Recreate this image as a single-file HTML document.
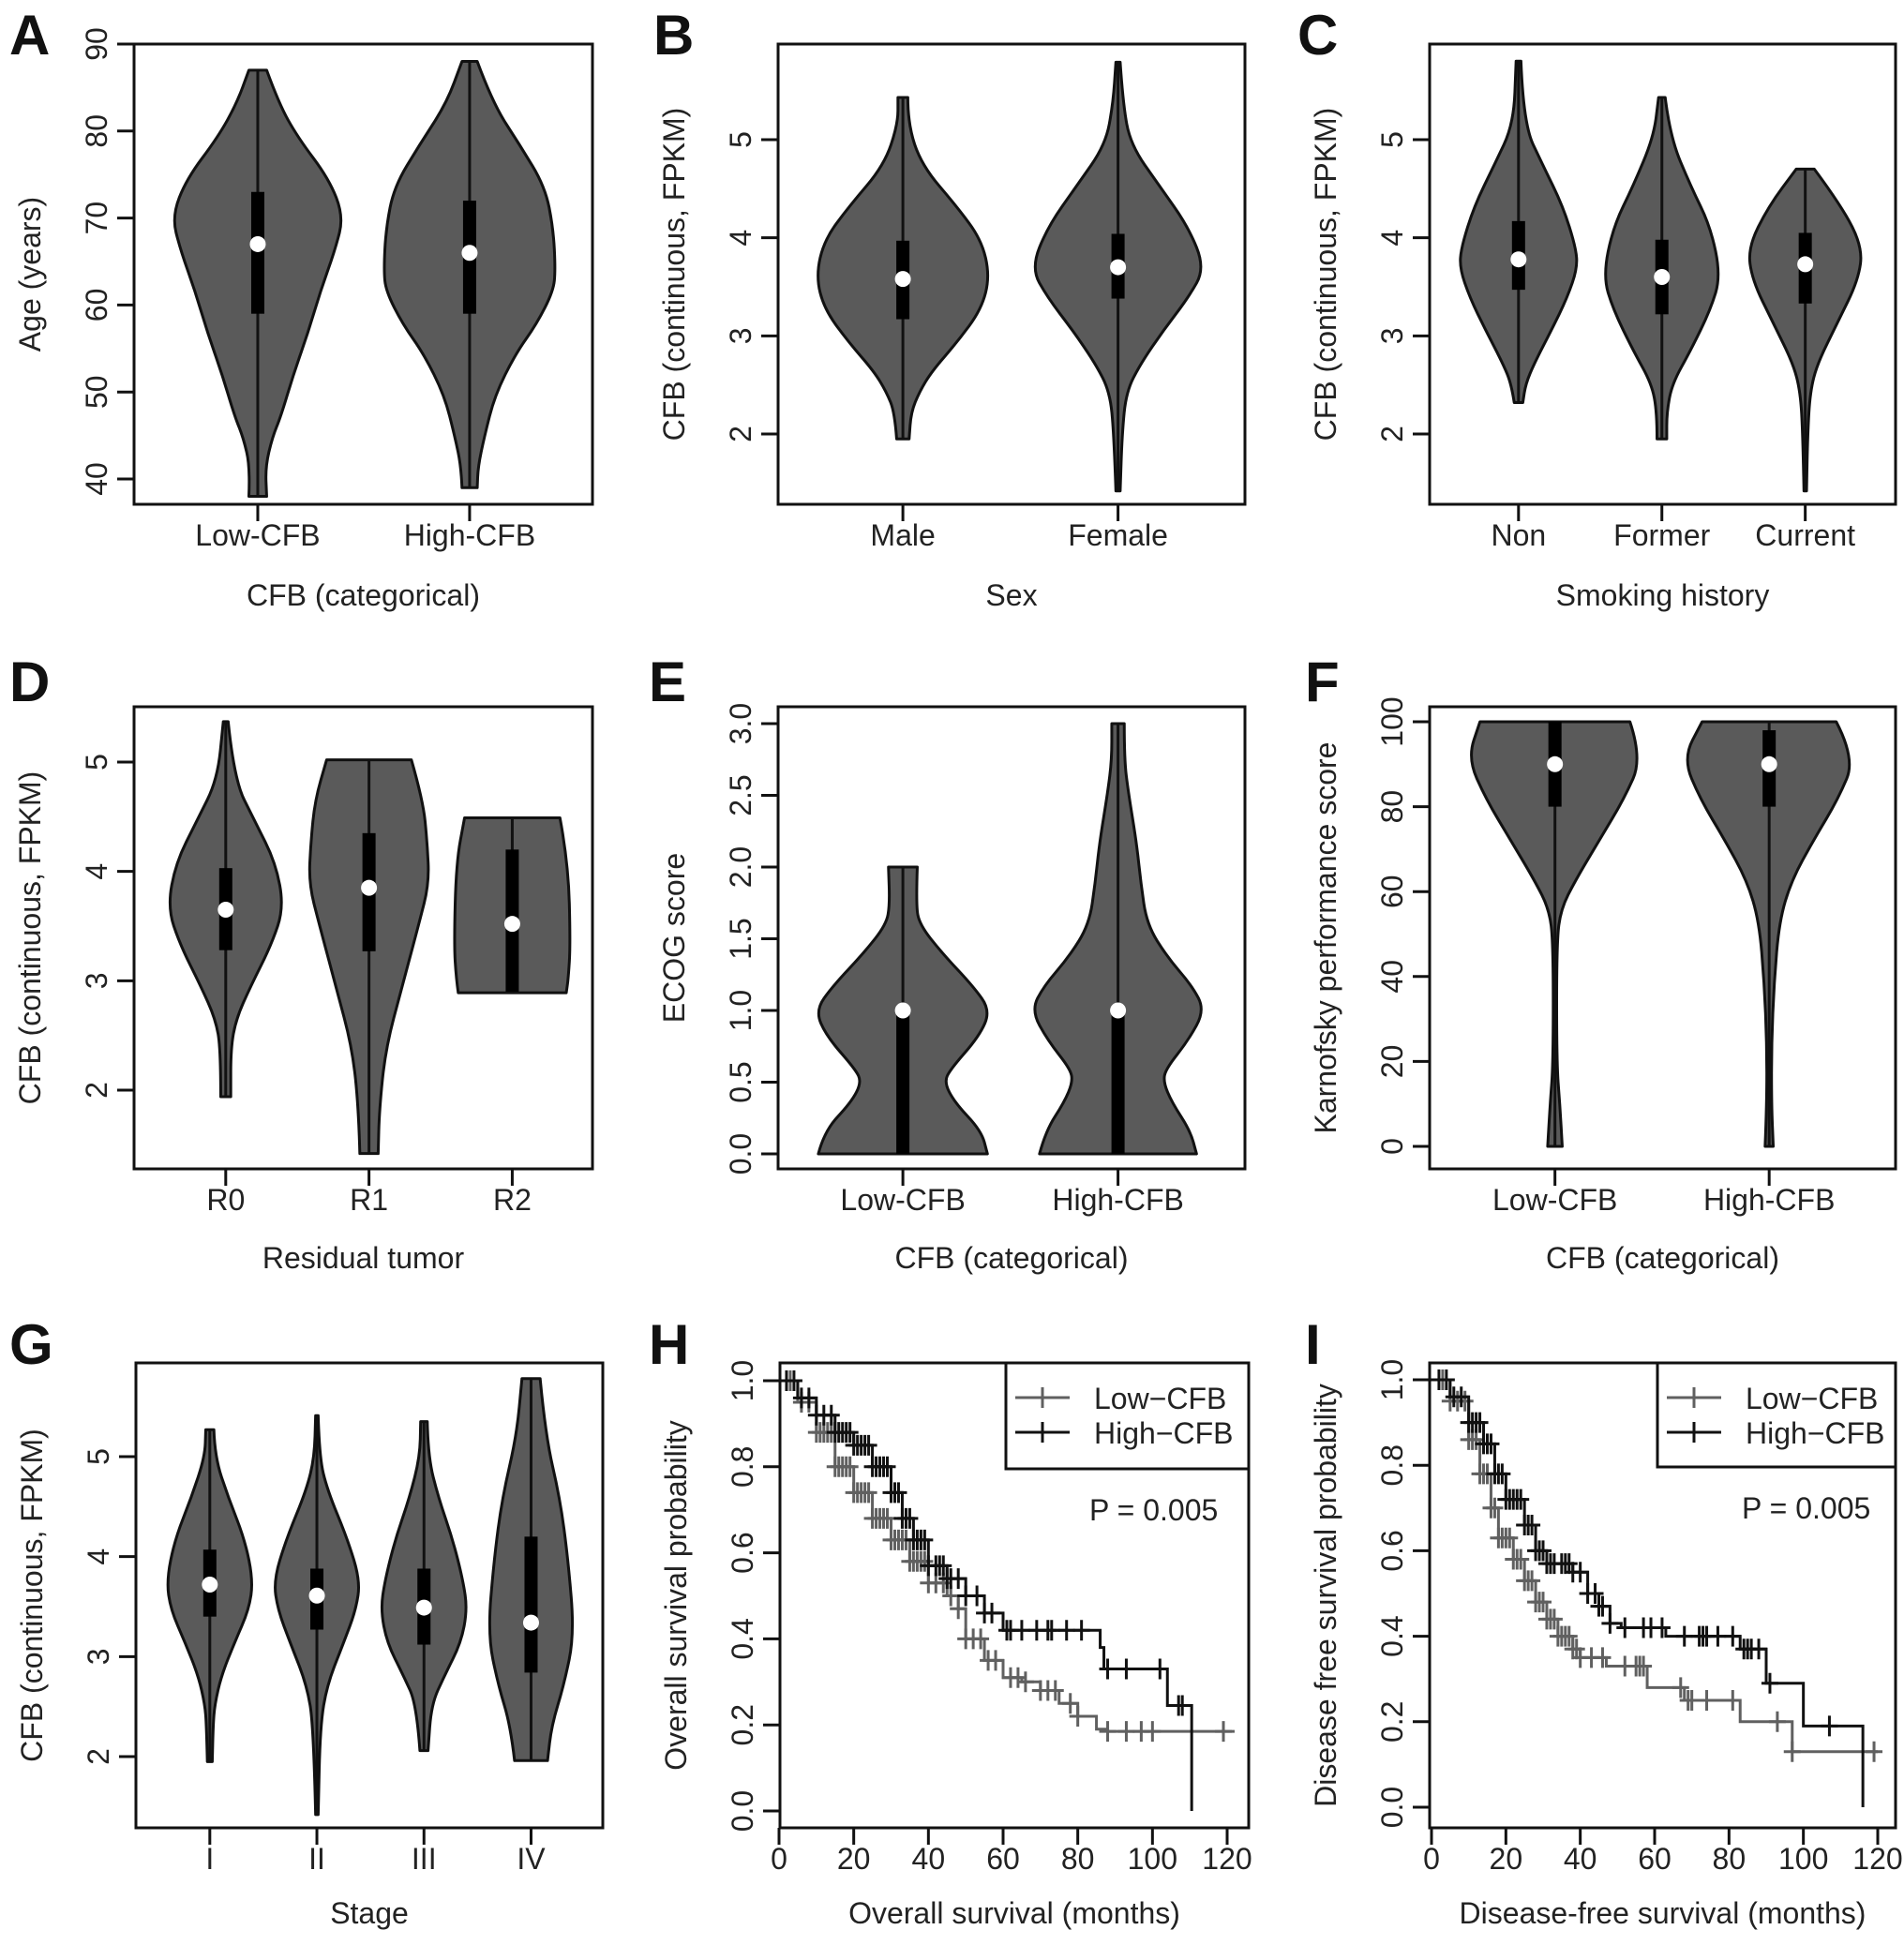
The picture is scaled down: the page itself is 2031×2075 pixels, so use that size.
<!DOCTYPE html>
<html><head><meta charset="utf-8">
<style>
html,body{margin:0;padding:0;background:#fff;}
svg{display:block;font-family:"Liberation Sans",Arial,sans-serif;}
</style></head>
<body>
<svg id="fig" xmlns="http://www.w3.org/2000/svg" width="2031" height="2075" viewBox="0 0 2031 2075"></svg>
<script>
// ---------- DATA ----------
// Panel A: Age by CFB group
const aCats = ["Low-CFB","High-CFB"];
const aTicks = [40,50,60,70,80,90];
const aLowVals = [87,83.2,79.3,74.5,70.2,66.4,61.6,56.8,52,47.2,44.8,41.4,38];
const aLowHw = [.042,.099,.188,.336,.405,.366,.296,.237,.168,.109,.069,.036,.042];
const aHighVals = [88,83.2,78.4,73.6,68.8,64,61.6,57.8,54.4,49.6,44.8,41.4,39];
const aHighHw = [.036,.109,.237,.356,.395,.405,.395,.316,.217,.119,.069,.040,.036];
const aQ1 = [59,59], aQ3 = [73,72], aMed = [67,66];
// Panel B: Sex
const bCats = ["Male","Female"];
const bTicks = [2,3,4,5];
const bMaleVals = [5.43,5.16,4.74,4.32,3.98,3.61,3.27,2.93,2.64,2.43,2.22,1.95];
const bMaleHw = [.023,.023,.087,.25,.365,.404,.365,.25,.135,.077,.038,.029];
const bFemVals = [5.79,5.37,4.95,4.53,4.11,3.69,3.39,3.06,2.72,2.43,2.0,1.42];
const bFemHw = [.01,.023,.058,.192,.327,.404,.327,.212,.106,.038,.019,.01];
const bQ1 = [3.17,3.38], bQ3 = [3.97,4.04], bMed = [3.58,3.70];
// Panel C: Smoking history
const cCats = ["Non","Former","Current"];
const cTicks = [2,3,4,5];
const cNonVals = [5.8,5.16,4.74,4.32,3.90,3.69,3.39,3.06,2.72,2.51,2.32];
const cNonHw = [.017,.034,.17,.31,.40,.41,.34,.23,.11,.05,.03];
const cFormerVals = [5.43,5.03,4.53,4.11,3.61,3.27,2.85,2.51,2.22,1.95];
const cFormerHw = [.023,.057,.2,.34,.41,.34,.2,.071,.034,.034];
const cCurVals = [4.70,4.32,3.90,3.57,3.14,2.72,2.43,2.0,1.42];
const cCurHw = [.063,.256,.40,.37,.227,.085,.034,.017,.009];
const cQ1 = [3.47,3.22,3.33], cQ3 = [4.17,3.98,4.05], cMed = [3.78,3.60,3.73];
// Panel D: Residual tumor
const dCats = ["R0","R1","R2"];
const dTicks = [2,3,4,5];
const dR0Vals = [5.37,4.84,4.46,4.08,3.67,3.33,2.95,2.65,2.38,1.94];
const dR0Hw = [.017,.058,.203,.348,.406,.319,.174,.072,.035,.035];
const dR1Vals = [5.02,4.65,4.27,3.89,3.52,2.95,2.38,1.82,1.42];
const dR1Hw = [.296,.377,.406,.42,.348,.232,.116,.072,.064];
const dR2Vals = [4.49,4.08,3.33,3.02,2.89];
const dR2Hw = [.333,.391,.406,.391,.377];
const dQ1 = [3.28,3.27,2.9], dQ3 = [4.03,4.35,4.2], dMed = [3.65,3.85,3.52];
// Panel E: ECOG
const eCats = ["Low-CFB","High-CFB"];
const eTicks = [0,0.5,1,1.5,2,2.5,3];
const eLowVals = [2,1.74,1.6,1.4,1.17,1.0,0.82,0.59,0.5,0.36,0.16,0];
const eLowHw = [.067,.061,.077,.182,.326,.407,.355,.221,.192,.24,.365,.393];
const eHighVals = [3,2.75,2.52,2.17,1.89,1.6,1.37,1.17,1.0,0.79,0.59,0.5,0.36,0.16,0];
const eHighHw = [.029,.029,.048,.086,.106,.134,.23,.345,.403,.326,.221,.211,.25,.336,.365];
const eQ1 = [0,0], eQ3 = [1,1], eMed = [1,1];
// Panel F: Karnofsky
const fCats = ["Low-CFB","High-CFB"];
const fTicks = [0,20,40,60,80,100];
const fLowVals = [100,91.4,81.8,72.2,62.6,55.9,48.2,19.4,9.8,0];
const fLowHw = [.35,.407,.322,.208,.095,.028,.008,.008,.023,.034];
const fHighVals = [100,91.4,81.8,72.2,62.6,53,38.6,24.2,9.8,0];
const fHighHw = [.313,.402,.322,.208,.104,.047,.023,.011,.011,.019];
const fQ1 = [80,80], fQ3 = [100,98], fMed = [90,90];
// Panel G: Stage
const gCats = ["I","II","III","IV"];
const gTicks = [2,3,4,5];
const gIVals = [5.27,5.0,4.59,4.17,3.76,3.47,3.14,2.81,2.52,2.31,1.95];
const gIHw = [.038,.046,.173,.327,.404,.365,.231,.108,.046,.031,.023];
const gIIVals = [5.41,5.0,4.67,4.17,3.76,3.47,3.14,2.72,2.31,1.42];
const gIIHw = [.012,.023,.096,.288,.404,.365,.25,.096,.031,.012];
const gIIIVals = [5.35,5.0,4.59,4.17,3.76,3.47,3.14,2.81,2.52,2.06];
const gIIIHw = [.031,.038,.135,.269,.365,.404,.346,.192,.069,.038];
const gIVVals = [5.78,5.21,4.59,3.97,3.22,2.72,2.31,1.96];
const gIVHw = [.085,.135,.269,.346,.404,.308,.192,.154];
const gQ1 = [3.4,3.27,3.12,2.84], gQ3 = [4.07,3.88,3.88,4.2], gMed = [3.72,3.61,3.49,3.34];
// Panel H: Overall survival KM
const kmXTicks = [0,20,40,60,80,100,120];
const kmYTicks = [0,0.2,0.4,0.6,0.8,1.0];
const hLowT = [0,5,10,15,20,25,30,35,40,45,48,50,55,60,65,70,75,80,85,88,122];
const hLowS = [1,0.95,0.88,0.80,0.74,0.68,0.63,0.58,0.53,0.50,0.47,0.40,0.35,0.31,0.30,0.28,0.25,0.22,0.19,0.185,0.185];
const hHighT = [0,5,10,15,20,25,30,33,36,40,45,50,55,60,86,87,104,110.5,110.5];
const hHighS = [1,0.96,0.92,0.88,0.85,0.80,0.74,0.68,0.63,0.57,0.54,0.50,0.46,0.42,0.38,0.33,0.245,0.245,0];
const hLowCens = [3,6,8,10,11,12,13,14,15,16,17,18,19,20,21,22,23,24,25,26,27,28,29,30,31,32,33,34,35,36,37,38,39,40,42,44,46,48,50,52,54,56,58,62,64,66,70,72,74,78,80,88,93,97,100,119];
const hHighCens = [2,4,6,8,10,12,14,15,16,17,18,19,20,21,22,23,24,25,26,27,28,29,30,31,32,33,34,35,36,37,38,39,40,42,43,44,45,46,48,50,53,55,57,61,62,65,69,72,73,77,81,88,93,102,107,108];
// Panel I: Disease-free survival KM
const iLowT = [0,5,10,13,16,18,22,25,28,31,34,38,40,47,58,68,83,97,120];
const iLowS = [1,0.95,0.86,0.78,0.70,0.63,0.58,0.53,0.48,0.44,0.40,0.37,0.35,0.33,0.28,0.25,0.20,0.13,0.13];
const iHighT = [0,5,10,14,17,20,25,28,31,38,42,45,48,51,63,83,90,100,116,116];
const iHighS = [1,0.96,0.90,0.85,0.78,0.72,0.66,0.60,0.57,0.55,0.50,0.47,0.43,0.42,0.40,0.37,0.29,0.19,0.19,0];
const iLowCens = [3,5,7,9,10,11,12,13,14,15,16,17,18,19,20,21,22,23,24,25,26,27,28,29,30,31,32,33,34,35,36,37,38,39,40,43,46,52,55,56,57,67,69,70,74,81,93,97,119];
const iHighCens = [2,4,6,8,10,11,12,13,14,15,16,17,18,19,20,21,22,23,24,25,26,27,28,29,30,31,32,33,35,36,37,38,40,42,44,45,46,48,52,57,59,62,68,72,73,74,77,81,84,85,86,88,91,107];

// ---------- DRAWING ----------
const NS = "http://www.w3.org/2000/svg";
const svg = document.getElementById("fig");
function el(tag, attrs, parent){
  const e = document.createElementNS(NS, tag);
  for (const k in attrs) e.setAttribute(k, attrs[k]);
  (parent||svg).appendChild(e);
  return e;
}
function txt(s, attrs, parent){ const t = el("text", attrs, parent); t.textContent = s; return t; }
const FS = 32;
const TICKOFF = 44;

function makePanel(letter, lx, ly, box, ytop, ybot, name){
  const g = el("g", {});
  
  
  const L = txt(letter, {x:lx, y:ly, "font-size":60, "font-weight":"bold", fill:"#111"}, g);
  
  
  const ys = v => ytop[1] + (v - ytop[0]) * (ybot[1] - ytop[1]) / (ybot[0] - ytop[0]);
  return {g, ys, box};
}
function frame(p){
  const b = p.box;
  const r = el("rect", {x:b[0], y:b[1], width:b[2]-b[0], height:b[3]-b[1], fill:"none", stroke:"#111", "stroke-width":3}, p.g);
  
  
}
function yAxis(p, ticks, fmt, title){
  const b = p.box;
  const ax = el("g", {}, p.g);
  
  
  ticks.forEach(v => {
    const y = p.ys(v);
    el("line", {x1:b[0]-18, x2:b[0], y1:y, y2:y, stroke:"#111", "stroke-width":3}, ax);
    const t = txt(fmt(v), {x:b[0]-29, y:y, "font-size":FS, "text-anchor":"middle", fill:"#222", transform:`rotate(-90 ${b[0]-29} ${y})`}, ax);
    
    
  });
  const cy = (b[1]+b[3])/2;
  const t = txt(title, {x:b[0]-100, y:cy, "font-size":FS, "text-anchor":"middle", fill:"#222", transform:`rotate(-90 ${b[0]-100} ${cy})`}, ax);
  
  
}
function xCatAxis(p, cats, xs, title, titleOff){
  const b = p.box;
  const ax = el("g", {}, p.g);
  
  
  cats.forEach((c,i) => {
    const x = xs(i+1);
    el("line", {x1:x, x2:x, y1:b[3], y2:b[3]+18, stroke:"#111", "stroke-width":3}, ax);
    const t = txt(c, {x:x, y:b[3]+TICKOFF, "font-size":FS, "text-anchor":"middle", fill:"#222"}, ax);
    
    
  });
  const t = txt(title, {x:(b[0]+b[2])/2, y:b[3]+titleOff, "font-size":FS, "text-anchor":"middle", fill:"#222"}, ax);
  
  
}
function violinPanel(p, xlim, cats, vals, hws, q1, q3, med, fmt, ticks, ytitle, xtitle, titleOff){
  const b = p.box;
  const xs = v => b[0] + (v - xlim[0]) / (xlim[1]-xlim[0]) * (b[2]-b[0]);
  const unit = xs(2) - xs(1);
  cats.forEach((c,i) => {
    const cx = xs(i+1);
    const V = vals[i], H = hws[i];
    const right = V.map((v,k) => [cx + H[k]*unit, p.ys(v)]);
    const left = V.map((v,k) => [cx - H[k]*unit, p.ys(v)]).reverse();
    function side(arr){
      let s = "";
      for (let k=1;k<arr.length-1;k++){
        const mx = (arr[k][0]+arr[k+1][0])/2, my = (arr[k][1]+arr[k+1][1])/2;
        s += " Q" + arr[k][0] + "," + arr[k][1] + " " + mx + "," + my;
      }
      s += " L" + arr[arr.length-1][0] + "," + arr[arr.length-1][1];
      return s;
    }
    const d = "M" + right[0][0] + "," + right[0][1] + side(right) + " L" + left[0][0] + "," + left[0][1] + side(left) + " Z";
    const vg = el("g", {}, p.g);
    
    
    el("path", {d:d, fill:"#5a5a5a", stroke:"#111", "stroke-width":3, "stroke-linejoin":"round"}, vg);
    const vmax = Math.max.apply(null, V), vmin = Math.min.apply(null, V);
    const w = el("line", {x1:cx, x2:cx, y1:p.ys(vmax), y2:p.ys(vmin), stroke:"#111", "stroke-width":3}, vg);
    
    
    const r = el("rect", {x:cx-7, y:p.ys(q3[i]), width:14, height:p.ys(q1[i])-p.ys(q3[i]), fill:"#000"}, vg);
    
    
    const m = el("circle", {cx:cx, cy:p.ys(med[i]), r:8.5, fill:"#fff"}, vg);
    
    
  });
  frame(p);
  yAxis(p, ticks, fmt, ytitle);
  xCatAxis(p, cats, xs, xtitle, titleOff);
}
const f0 = v => String(v), f1 = v => v.toFixed(1);

// A
let p = makePanel("A", 10, 58, [143,47,632,538], [90,47], [40,511], "panel-a-age");
violinPanel(p, [0.416,2.58], aCats, [aLowVals,aHighVals], [aLowHw,aHighHw], aQ1, aQ3, aMed, f0, aTicks, "Age (years)", "CFB (categorical)", 108);
// B
p = makePanel("B", 697, 58, [830,47,1328,538], [5,149], [2,463], "panel-b-sex");
violinPanel(p, [0.42,2.59], bCats, [bMaleVals,bFemVals], [bMaleHw,bFemHw], bQ1, bQ3, bMed, f0, bTicks, "CFB (continuous, FPKM)", "Sex", 108);
// C
p = makePanel("C", 1384, 58, [1525,47,2022,538], [5,149], [2,463], "panel-c-smoking");
violinPanel(p, [0.38,3.63], cCats, [cNonVals,cFormerVals,cCurVals], [cNonHw,cFormerHw,cCurHw], cQ1, cQ3, cMed, f0, cTicks, "CFB (continuous, FPKM)", "Smoking history", 108);
// D
p = makePanel("D", 10, 748, [143,754,632,1247], [5,813], [2,1163], "panel-d-residual");
violinPanel(p, [0.36,3.56], dCats, [dR0Vals,dR1Vals,dR2Vals], [dR0Hw,dR1Hw,dR2Hw], dQ1, dQ3, dMed, f0, dTicks, "CFB (continuous, FPKM)", "Residual tumor", 106);
// E
p = makePanel("E", 692, 748, [830,754,1328,1247], [3,772], [0,1231], "panel-e-ecog");
violinPanel(p, [0.42,2.59], eCats, [eLowVals,eHighVals], [eLowHw,eHighHw], eQ1, eQ3, eMed, f1, eTicks, "ECOG score", "CFB (categorical)", 106);
// F
p = makePanel("F", 1392, 748, [1525,754,2022,1247], [100,770], [0,1223], "panel-f-karnofsky");
violinPanel(p, [0.415,2.59], fCats, [fLowVals,fHighVals], [fLowHw,fHighHw], fQ1, fQ3, fMed, f0, fTicks, "Karnofsky performance score", "CFB (categorical)", 106);
// G
p = makePanel("G", 10, 1455, [145,1454,643,1950], [5,1554], [2,1874], "panel-g-stage");
violinPanel(p, [0.31,4.67], gCats, [gIVals,gIIVals,gIIIVals,gIVVals], [gIHw,gIIHw,gIIIHw,gIVHw], gQ1, gQ3, gMed, f0, gTicks, "CFB (continuous, FPKM)", "Stage", 102);

// KM panels
function kmPanel(p, x0px, x120px, series, legendBox, pPos, xtitle, ytitle){
  const b = p.box;
  const xs = t => x0px + t * (x120px - x0px) / 120;
  frame(p);
  yAxis(p, kmYTicks, f1, ytitle);
  const ax = el("g", {}, p.g);
  
  
  kmXTicks.forEach(v => {
    const x = xs(v);
    el("line", {x1:x, x2:x, y1:b[3], y2:b[3]+18, stroke:"#111", "stroke-width":3}, ax);
    const t = txt(String(v), {x:x, y:b[3]+TICKOFF, "font-size":FS, "text-anchor":"middle", fill:"#222"}, ax);
    
    
  });
  const xt = txt(xtitle, {x:(b[0]+b[2])/2, y:b[3]+102, "font-size":FS, "text-anchor":"middle", fill:"#222"}, ax);
  
  
  series.forEach(s => {
    const sg = el("g", {}, p.g);
    
    
    let d = "M" + xs(s.T[0]) + "," + p.ys(s.S[0]);
    for (let k=1;k<s.T.length;k++){
      d += " H" + xs(s.T[k]) + " V" + p.ys(s.S[k]);
    }
    el("path", {d:d, fill:"none", stroke:s.color, "stroke-width":3}, sg);
    const surv = t => { let v = s.S[0]; for (let k=0;k<s.T.length;k++){ if (s.T[k] <= t && !(k===s.T.length-1 && s.S[k]===0)) v = s.S[k]; } return v; };
    s.C.forEach(t => {
      const x = xs(t), y = p.ys(surv(t));
      const m = el("path", {d:`M${x-9},${y} H${x+9} M${x},${y-11} V${y+11}`, stroke:s.color, "stroke-width":3}, sg);
      
      
    });
  });
  const lg = el("g", {}, p.g);
  
  
  el("rect", {x:legendBox[0], y:legendBox[1], width:legendBox[2]-legendBox[0], height:legendBox[3]-legendBox[1], fill:"#fff", stroke:"#111", "stroke-width":3}, lg);
  series.forEach((s,k) => {
    const y = legendBox[1] + 37 + k*37;
    const lx = legendBox[0] + 10, lx2 = legendBox[0] + 68, mx = (lx+lx2)/2;
    const e = el("g", {}, lg);
    
    
    el("path", {d:`M${lx},${y} H${lx2} M${mx},${y-11} V${y+11}`, stroke:s.color, "stroke-width":3}, e);
    txt(s.label, {x:legendBox[0]+94, y:y+12, "font-size":FS, fill:"#222"}, e);
  });
  const pt = txt("P = 0.005", {x:pPos[0], y:pPos[1], "font-size":FS, fill:"#222"}, p.g);
  
  
}
p = makePanel("H", 692, 1455, [832,1454,1332,1950], [1,1473], [0,1932], "panel-h-overall-survival");
kmPanel(p, 831, 1309, [
  {name:"curve-low-cfb", label:"Low\u2212CFB", color:"#606060", T:hLowT, S:hLowS, C:hLowCens},
  {name:"curve-high-cfb", label:"High\u2212CFB", color:"#111", T:hHighT, S:hHighS, C:hHighCens}
], [1073,1454,1332,1567], [1162,1622], "Overall survival (months)", "Overall survival probability");
p = makePanel("I", 1392, 1455, [1525,1454,2022,1950], [1,1472], [0,1928], "panel-i-disease-free-survival");
kmPanel(p, 1527, 2003, [
  {name:"curve-low-cfb", label:"Low\u2212CFB", color:"#606060", T:iLowT, S:iLowS, C:iLowCens},
  {name:"curve-high-cfb", label:"High\u2212CFB", color:"#111", T:iHighT, S:iHighS, C:iHighCens}
], [1768,1454,2022,1565], [1858,1620], "Disease-free survival (months)", "Disease free survival probability");
</script>
</body></html>
